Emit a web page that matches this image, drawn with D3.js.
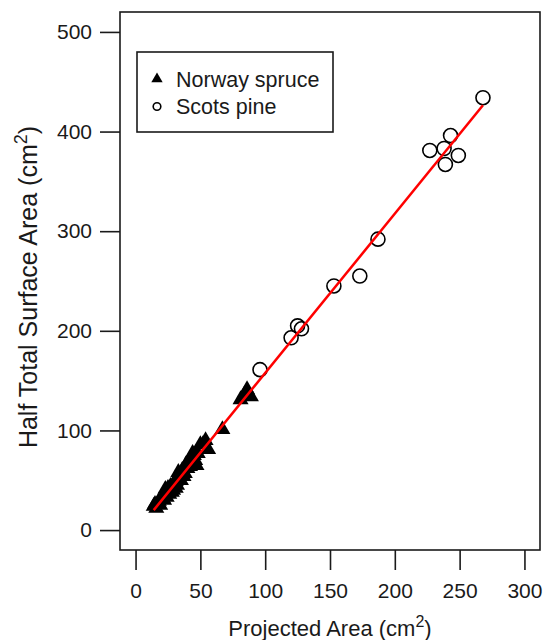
<!DOCTYPE html>
<html>
<head>
<meta charset="utf-8">
<script src="https://cdn.jsdelivr.net/npm/d3@7"></script>
<style>
  body { margin: 0; background: #fff; }
  svg { display: block; font-family: "Liberation Sans", Arial, sans-serif; }
</style>
</head>
<body>
<div id="chart"></div>
<script>
// Norway spruce: projected area (x) vs half total surface area (y), cm2
const spruceX = [14, 16, 19, 15, 17, 18, 20, 21, 22, 23, 23, 24, 25, 25, 26, 27, 27, 28, 29, 29, 30, 31, 31, 32, 33, 33, 34, 35, 35, 36, 37, 38, 38, 39, 40, 41, 42, 43, 44, 44, 45, 46, 47, 48, 50, 52, 54, 56, 67, 81, 84, 86, 89];
const spruceY = [24, 22, 25, 26, 27, 29, 31, 32, 30, 34, 41, 33, 37, 42, 36, 44, 39, 38, 46, 40, 43, 49, 42, 45, 52, 58, 50, 55, 50, 60, 54, 63, 57, 66, 62, 69, 64, 72, 67, 77, 75, 70, 65, 77, 86, 86, 90, 81, 101, 131, 136, 141, 134];

// Scots pine
const pineX = [268, 243, 227, 238, 249, 239, 187, 173, 153, 125, 128, 120, 96];
const pineY = [434, 396, 381, 383, 376, 367, 292, 255, 245, 205, 202, 193, 161];

// fitted line: intercept, slope
const fitCoef = [-2.4, 1.6];

const xTicks = [0, 50, 100, 150, 200, 250, 300];
const yTicks = [0, 100, 200, 300, 400, 500];
const legendLabels = ["Norway spruce", "Scots pine"];

const width = 551, height = 640;
const plot = { left: 120, right: 540, top: 12, bottom: 550 };

const svg = d3.select("#chart").append("svg").attr("width", width).attr("height", height);

// R style: limits 0-300 / 0-500 extended by 4%
const x = d3.scaleLinear().domain([-12, 312]).range([plot.left, plot.right]);
const y = d3.scaleLinear().domain([-20, 520]).range([plot.bottom, plot.top]);

const ink = "#1a1a1a";

// axes
const xAxis = d3.axisBottom(x).tickValues(xTicks).tickSize(20).tickSizeOuter(0).tickPadding(13);
const yAxis = d3.axisLeft(y).tickValues(yTicks).tickSize(20).tickSizeOuter(0).tickPadding(8);

const gx = svg.append("g").attr("transform", `translate(0,${plot.bottom})`).call(xAxis);
const gy = svg.append("g").attr("transform", `translate(${plot.left},0)`).call(yAxis);
[gx, gy].forEach(g => {
    g.select(".domain").remove();
    g.selectAll(".tick line").attr("stroke", ink).attr("stroke-width", 1.6);
    g.selectAll(".tick text").attr("fill", ink)
        .style("font-family", "'Liberation Sans', Arial, sans-serif").style("font-size", "21px");
});
gx.selectAll(".tick text").attr("dy", "0.71em");

// plot box
svg.append("rect")
    .attr("x", plot.left).attr("y", plot.top)
    .attr("width", plot.right - plot.left).attr("height", plot.bottom - plot.top)
    .attr("fill", "none").attr("stroke", ink).attr("stroke-width", 1.6);

// points
const spruce = spruceX.map((v, i) => ({ x: v, y: spruceY[i] }));
const pine = pineX.map((v, i) => ({ x: v, y: pineY[i] }));

const tri = d3.symbol().type(d3.symbolTriangle).size(111);
svg.append("g").selectAll("path").data(spruce).enter().append("path")
    .attr("d", tri)
    .attr("transform", d => `translate(${x(d.x)},${y(d.y)})`)
    .attr("fill", "#000");

svg.append("g").selectAll("circle").data(pine).enter().append("circle")
    .attr("cx", d => x(d.x)).attr("cy", d => y(d.y)).attr("r", 7)
    .attr("fill", "none").attr("stroke", "#000").attr("stroke-width", 1.6);

// regression line over the data range
const allX = spruceX.concat(pineX);
const ext = d3.extent(allX);
svg.append("path")
    .datum(ext.map(v => ({ x: v, y: fitCoef[0] + fitCoef[1] * v })))
    .attr("d", d3.line().x(d => x(d.x)).y(d => y(d.y)))
    .attr("stroke", "#ff0000").attr("stroke-width", 2.5).attr("fill", "none");

// legend
const lg = svg.append("g");
lg.append("rect").attr("x", 137).attr("y", 52).attr("width", 196).attr("height", 80)
    .attr("fill", "#fff").attr("stroke", ink).attr("stroke-width", 1.6);
lg.append("path").attr("d", d3.symbol().type(d3.symbolTriangle).size(56))
    .attr("transform", "translate(157,79)").attr("fill", "#000");
lg.append("circle").attr("cx", 157).attr("cy", 106.5).attr("r", 3.8)
    .attr("fill", "none").attr("stroke", "#000").attr("stroke-width", 1.6);
lg.selectAll("text").data(legendLabels).enter().append("text")
    .attr("x", 176).attr("y", (d, i) => 87 + i * 27)
    .style("font-size", "21.5px").attr("fill", ink).text(d => d);

// axis titles
const xt = svg.append("text").attr("x", (plot.left + plot.right) / 2).attr("y", 636)
    .attr("text-anchor", "middle").style("font-size", "22px").attr("fill", ink);
xt.append("tspan").text("Projected Area (cm");
xt.append("tspan").attr("dy", -9).style("font-size", "16px").text("2");
xt.append("tspan").attr("dy", 9).text(")");

const yt = svg.append("text").attr("transform", `translate(37,287) rotate(-90)`)
    .attr("text-anchor", "middle").style("font-size", "25px").attr("fill", ink);
yt.append("tspan").text("Half Total Surface Area (cm");
yt.append("tspan").attr("dy", -10).style("font-size", "18px").text("2");
yt.append("tspan").attr("dy", 10).text(")");
</script>
</body>
</html>
